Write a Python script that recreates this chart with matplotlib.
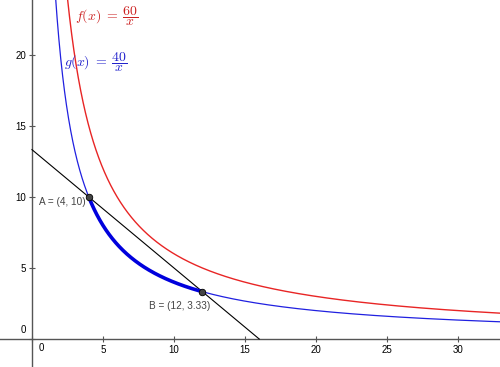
import numpy as np
import matplotlib
matplotlib.use("Agg")
import matplotlib.pyplot as plt

plt.rcParams["mathtext.fontset"] = "cm"
plt.rcParams["font.family"] = ["Liberation Sans", "DejaVu Sans"]

# Data
f_num = 60
g_num = 40
point_A = (4, 10)
point_B = (12, 3.33)
x_ticks = [0, 5, 10, 15, 20, 25, 30]
y_ticks = [0, 5, 10, 15, 20]

fig = plt.figure(figsize=(5, 3.67), dpi=100)
ax = fig.add_axes([0, 0, 1, 1])
ax.set_xlim(-2.25, 32.95)
ax.set_ylim(-1.97, 23.87)

x = np.linspace(0.5, 34, 2000)
ax.plot(x, f_num / x, color="#e82525", lw=1.0, zorder=3)
ax.plot(x, g_num / x, color="#2020e0", lw=0.9, zorder=3)
xs = np.linspace(point_A[0], point_B[0], 300)
ax.plot(xs, g_num / xs, color="#0000dd", lw=2.6, zorder=4, solid_capstyle="butt")

# secant line through A and B, drawn from the y axis to the x axis
slope = -5 / 6
intercept = point_A[1] - slope * point_A[0]
xl = np.array([0, -intercept / slope])
ax.plot(xl, intercept + slope * xl, color="black", lw=0.8, zorder=3)

ax.scatter([point_A[0], point_B[0]], [point_A[1], 40 / 12], s=22, color="#444444",
           edgecolor="black", linewidth=0.6, zorder=6)

ax.text(point_A[0] - 0.2, point_A[1] - 0.35, "A = (4, 10)", ha="right", va="center",
        fontsize=7.2, color="#444444", zorder=7)
ax.text(12.55, 2.35, "B = (12, 3.33)", ha="right", va="center",
        fontsize=7.2, color="#444444", zorder=7)

ax.text(3.0, 22.7, r"$f(x)\;=\;\dfrac{60}{x}$", color="#cc2222", fontsize=10,
        va="center", ha="left")
ax.text(2.25, 19.5, r"$g(x)\;=\;\dfrac{40}{x}$", color="#2222cc", fontsize=10,
        va="center", ha="left")

# axes
for s in ["top", "right"]:
    ax.spines[s].set_visible(False)
ax.spines["left"].set_position(("data", 0))
ax.spines["bottom"].set_position(("data", 0))
for s in ["left", "bottom"]:
    ax.spines[s].set_color("#555555")
    ax.spines[s].set_linewidth(1.0)
ax.set_xticks(x_ticks)
ax.set_yticks(y_ticks)
ax.set_xticklabels(["" if t == 0 else str(t) for t in x_ticks])
ax.set_yticklabels(["" if t == 0 else str(t) for t in y_ticks])
ax.tick_params(axis="both", direction="inout", length=4, width=0.8, color="#555555",
               labelsize=7, pad=2)
ax.text(0.45, -0.3, "0", fontsize=7, ha="left", va="top")
ax.text(-0.45, 0.25, "0", fontsize=7, ha="right", va="bottom")

fig.savefig("out.png", dpi=100)
